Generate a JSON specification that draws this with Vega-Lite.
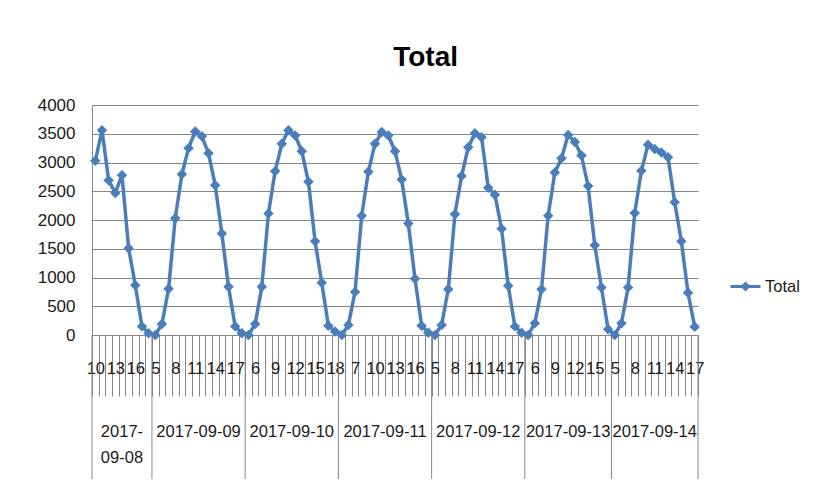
{
  "$schema": "https://vega.github.io/schema/vega-lite/v6.json",
  "background": "white",
  "padding": {"left": 37, "top": 44, "right": 5, "bottom": 5},
  "title": {
    "text": "Total",
    "font": "Liberation Sans",
    "fontSize": 28,
    "fontWeight": "bold",
    "color": "#000000",
    "anchor": "middle",
    "dx": 7,
    "offset": 24
  },
  "datasets": {
    "hourly": [
      {"i": 0, "date": "2017-09-08", "slot": "2017-09-08 10", "total": 3030},
      {"i": 1, "date": "2017-09-08", "slot": "2017-09-08 11", "total": 3560},
      {"i": 2, "date": "2017-09-08", "slot": "2017-09-08 12", "total": 2690},
      {"i": 3, "date": "2017-09-08", "slot": "2017-09-08 13", "total": 2470},
      {"i": 4, "date": "2017-09-08", "slot": "2017-09-08 14", "total": 2780},
      {"i": 5, "date": "2017-09-08", "slot": "2017-09-08 15", "total": 1510},
      {"i": 6, "date": "2017-09-08", "slot": "2017-09-08 16", "total": 865},
      {"i": 7, "date": "2017-09-08", "slot": "2017-09-08 17", "total": 150},
      {"i": 8, "date": "2017-09-08", "slot": "2017-09-08 18", "total": 30},
      {"i": 9, "date": "2017-09-09", "slot": "2017-09-09 5", "total": 0},
      {"i": 10, "date": "2017-09-09", "slot": "2017-09-09 6", "total": 190},
      {"i": 11, "date": "2017-09-09", "slot": "2017-09-09 7", "total": 805},
      {"i": 12, "date": "2017-09-09", "slot": "2017-09-09 8", "total": 2030},
      {"i": 13, "date": "2017-09-09", "slot": "2017-09-09 9", "total": 2795},
      {"i": 14, "date": "2017-09-09", "slot": "2017-09-09 10", "total": 3250},
      {"i": 15, "date": "2017-09-09", "slot": "2017-09-09 11", "total": 3540},
      {"i": 16, "date": "2017-09-09", "slot": "2017-09-09 12", "total": 3455},
      {"i": 17, "date": "2017-09-09", "slot": "2017-09-09 13", "total": 3160},
      {"i": 18, "date": "2017-09-09", "slot": "2017-09-09 14", "total": 2605},
      {"i": 19, "date": "2017-09-09", "slot": "2017-09-09 15", "total": 1765},
      {"i": 20, "date": "2017-09-09", "slot": "2017-09-09 16", "total": 840},
      {"i": 21, "date": "2017-09-09", "slot": "2017-09-09 17", "total": 150},
      {"i": 22, "date": "2017-09-09", "slot": "2017-09-09 18", "total": 30},
      {"i": 23, "date": "2017-09-10", "slot": "2017-09-10 5", "total": 0},
      {"i": 24, "date": "2017-09-10", "slot": "2017-09-10 6", "total": 190},
      {"i": 25, "date": "2017-09-10", "slot": "2017-09-10 7", "total": 840},
      {"i": 26, "date": "2017-09-10", "slot": "2017-09-10 8", "total": 2115},
      {"i": 27, "date": "2017-09-10", "slot": "2017-09-10 9", "total": 2850},
      {"i": 28, "date": "2017-09-10", "slot": "2017-09-10 10", "total": 3325},
      {"i": 29, "date": "2017-09-10", "slot": "2017-09-10 11", "total": 3560},
      {"i": 30, "date": "2017-09-10", "slot": "2017-09-10 12", "total": 3470},
      {"i": 31, "date": "2017-09-10", "slot": "2017-09-10 13", "total": 3195},
      {"i": 32, "date": "2017-09-10", "slot": "2017-09-10 14", "total": 2665},
      {"i": 33, "date": "2017-09-10", "slot": "2017-09-10 15", "total": 1630},
      {"i": 34, "date": "2017-09-10", "slot": "2017-09-10 16", "total": 910},
      {"i": 35, "date": "2017-09-10", "slot": "2017-09-10 17", "total": 160},
      {"i": 36, "date": "2017-09-10", "slot": "2017-09-10 18", "total": 60},
      {"i": 37, "date": "2017-09-11", "slot": "2017-09-11 5", "total": 0},
      {"i": 38, "date": "2017-09-11", "slot": "2017-09-11 6", "total": 175},
      {"i": 39, "date": "2017-09-11", "slot": "2017-09-11 7", "total": 750},
      {"i": 40, "date": "2017-09-11", "slot": "2017-09-11 8", "total": 2075},
      {"i": 41, "date": "2017-09-11", "slot": "2017-09-11 9", "total": 2840},
      {"i": 42, "date": "2017-09-11", "slot": "2017-09-11 10", "total": 3325},
      {"i": 43, "date": "2017-09-11", "slot": "2017-09-11 11", "total": 3530},
      {"i": 44, "date": "2017-09-11", "slot": "2017-09-11 12", "total": 3470},
      {"i": 45, "date": "2017-09-11", "slot": "2017-09-11 13", "total": 3195},
      {"i": 46, "date": "2017-09-11", "slot": "2017-09-11 14", "total": 2705},
      {"i": 47, "date": "2017-09-11", "slot": "2017-09-11 15", "total": 1940},
      {"i": 48, "date": "2017-09-11", "slot": "2017-09-11 16", "total": 980},
      {"i": 49, "date": "2017-09-11", "slot": "2017-09-11 17", "total": 160},
      {"i": 50, "date": "2017-09-11", "slot": "2017-09-11 18", "total": 40},
      {"i": 51, "date": "2017-09-12", "slot": "2017-09-12 5", "total": 0},
      {"i": 52, "date": "2017-09-12", "slot": "2017-09-12 6", "total": 175},
      {"i": 53, "date": "2017-09-12", "slot": "2017-09-12 7", "total": 795},
      {"i": 54, "date": "2017-09-12", "slot": "2017-09-12 8", "total": 2100},
      {"i": 55, "date": "2017-09-12", "slot": "2017-09-12 9", "total": 2765},
      {"i": 56, "date": "2017-09-12", "slot": "2017-09-12 10", "total": 3265},
      {"i": 57, "date": "2017-09-12", "slot": "2017-09-12 11", "total": 3510},
      {"i": 58, "date": "2017-09-12", "slot": "2017-09-12 12", "total": 3440},
      {"i": 59, "date": "2017-09-12", "slot": "2017-09-12 13", "total": 2560},
      {"i": 60, "date": "2017-09-12", "slot": "2017-09-12 14", "total": 2440},
      {"i": 61, "date": "2017-09-12", "slot": "2017-09-12 15", "total": 1850},
      {"i": 62, "date": "2017-09-12", "slot": "2017-09-12 16", "total": 855},
      {"i": 63, "date": "2017-09-12", "slot": "2017-09-12 17", "total": 150},
      {"i": 64, "date": "2017-09-12", "slot": "2017-09-12 18", "total": 40},
      {"i": 65, "date": "2017-09-13", "slot": "2017-09-13 5", "total": 0},
      {"i": 66, "date": "2017-09-13", "slot": "2017-09-13 6", "total": 205},
      {"i": 67, "date": "2017-09-13", "slot": "2017-09-13 7", "total": 795},
      {"i": 68, "date": "2017-09-13", "slot": "2017-09-13 8", "total": 2075},
      {"i": 69, "date": "2017-09-13", "slot": "2017-09-13 9", "total": 2825},
      {"i": 70, "date": "2017-09-13", "slot": "2017-09-13 10", "total": 3075},
      {"i": 71, "date": "2017-09-13", "slot": "2017-09-13 11", "total": 3480},
      {"i": 72, "date": "2017-09-13", "slot": "2017-09-13 12", "total": 3355},
      {"i": 73, "date": "2017-09-13", "slot": "2017-09-13 13", "total": 3120},
      {"i": 74, "date": "2017-09-13", "slot": "2017-09-13 14", "total": 2590},
      {"i": 75, "date": "2017-09-13", "slot": "2017-09-13 15", "total": 1560},
      {"i": 76, "date": "2017-09-13", "slot": "2017-09-13 16", "total": 825},
      {"i": 77, "date": "2017-09-13", "slot": "2017-09-13 17", "total": 100},
      {"i": 78, "date": "2017-09-14", "slot": "2017-09-14 5", "total": 0},
      {"i": 79, "date": "2017-09-14", "slot": "2017-09-14 6", "total": 205},
      {"i": 80, "date": "2017-09-14", "slot": "2017-09-14 7", "total": 825},
      {"i": 81, "date": "2017-09-14", "slot": "2017-09-14 8", "total": 2120},
      {"i": 82, "date": "2017-09-14", "slot": "2017-09-14 9", "total": 2855},
      {"i": 83, "date": "2017-09-14", "slot": "2017-09-14 10", "total": 3310},
      {"i": 84, "date": "2017-09-14", "slot": "2017-09-14 11", "total": 3235},
      {"i": 85, "date": "2017-09-14", "slot": "2017-09-14 12", "total": 3175},
      {"i": 86, "date": "2017-09-14", "slot": "2017-09-14 13", "total": 3090},
      {"i": 87, "date": "2017-09-14", "slot": "2017-09-14 14", "total": 2310},
      {"i": 88, "date": "2017-09-14", "slot": "2017-09-14 15", "total": 1630},
      {"i": 89, "date": "2017-09-14", "slot": "2017-09-14 16", "total": 735},
      {"i": 90, "date": "2017-09-14", "slot": "2017-09-14 17", "total": 145}
    ]
  },
  "data": {"name": "hourly"},
  "spacing": 0,
  "bounds": "flush",
  "vconcat": [
    {
      "width": 606,
      "height": 230,
      "encoding": {
        "x": {
          "field": "slot",
          "type": "ordinal",
          "sort": null,
          "scale": {"type": "band", "paddingInner": 0, "paddingOuter": 0},
          "axis": {
            "title": null,
            "tickBand": "extent",
            "tickSize": 61,
            "labelAngle": 0,
            "labelPadding": -36,
            "labelOverlap": false,
            "labelFlush": false,
            "labelFont": "Liberation Sans",
            "labelFontSize": 16.5,
            "labelExpr": "datum.index >= 0 && round(datum.index * 90) % 3 == 0 ? split(datum.value, ' ')[1] : ''"
          }
        },
        "y": {
          "field": "total",
          "type": "quantitative",
          "scale": {"domain": [0, 4000], "nice": false},
          "axis": {
            "title": null,
            "values": [0, 500, 1000, 1500, 2000, 2500, 3000, 3500, 4000],
            "format": "d",
            "ticks": false,
            "grid": true,
            "labelPadding": 17,
            "labelFont": "Liberation Sans",
            "labelFontSize": 17
          }
        },
        "color": {
          "datum": "Total",
          "type": "nominal",
          "scale": {"range": ["#4A7EBB"]},
          "legend": {
            "orient": "none",
            "legendX": 637,
            "legendY": 165,
            "title": null,
            "symbolType": "M-1,0H1M-0.2,0L0,-0.2L0.2,0L0,0.2Z",
            "symbolSize": 900,
            "symbolStrokeWidth": 3,
            "symbolStrokeColor": "#4A7EBB",
            "symbolFillColor": "#4A7EBB",
            "labelFont": "Liberation Sans",
            "labelFontSize": 16.5,
            "labelOffset": 3,
            "labelColor": "#1a1a1a"
          }
        }
      },
      "layer": [
        {"mark": {"type": "line", "strokeWidth": 3.5, "strokeJoin": "round"}},
        {"mark": {"type": "point", "shape": "diamond", "filled": true, "size": 110, "opacity": 1}}
      ]
    },
    {
      "width": 606,
      "height": 144,
      "layer": [
        {
          "transform": [{"aggregate": [{"op": "min", "field": "i", "as": "first"}], "groupby": ["date"]}],
          "mark": {"type": "rule", "color": "#868686"},
          "encoding": {
            "x": {"field": "first", "type": "quantitative", "scale": {"domain": [0, 91], "nice": false, "zero": false}, "axis": null}
          }
        },
        {
          "transform": [{"aggregate": [{"op": "count", "as": "n"}]}],
          "mark": {"type": "rule", "color": "#868686"},
          "encoding": {
            "x": {"field": "n", "type": "quantitative", "scale": {"domain": [0, 91], "nice": false, "zero": false}, "axis": null}
          }
        },
        {
          "mark": {"type": "text", "font": "Liberation Sans", "fontSize": 16.5, "color": "#1a1a1a", "baseline": "top", "lineHeight": 26, "dy": 17},
          "encoding": {
            "x": {"aggregate": "mean", "field": "i", "type": "quantitative", "scale": {"domain": [-0.5, 90.5], "nice": false, "zero": false}, "axis": null},
            "text": {
              "condition": {"test": "datum.date == '2017-09-08'", "value": ["2017-", "09-08"]},
              "field": "date",
              "type": "nominal"
            }
          }
        }
      ],
      "resolve": {"scale": {"x": "independent"}}
    }
  ],
  "config": {
    "view": {"stroke": null},
    "axis": {
      "domainColor": "#868686",
      "tickColor": "#868686",
      "gridColor": "#868686",
      "gridOpacity": 1,
      "labelColor": "#1a1a1a"
    }
  }
}
